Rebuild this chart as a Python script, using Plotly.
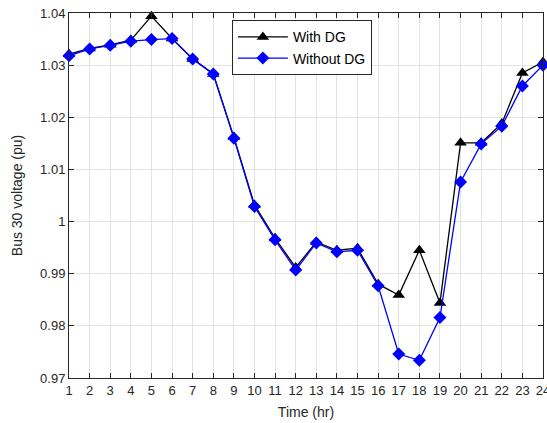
import plotly.graph_objects as go

hours = list(range(1, 25))
with_dg = [1.0321, 1.0332, 1.0339, 1.0348, 1.0394, 1.0351, 1.0312, 1.0283, 1.0162, 1.0032,
           0.9968, 0.9912, 0.9961, 0.9945, 0.9949, 0.9880, 0.9859, 0.9945, 0.9844, 1.0151,
           1.0151, 1.0188, 1.0285, 1.0306]
without_dg = [1.0318, 1.0331, 1.0338, 1.0346, 1.0349, 1.0351, 1.0312, 1.0283, 1.0160, 1.0029,
              0.9965, 0.9907, 0.9959, 0.9942, 0.9945, 0.9877, 0.9746, 0.9734, 0.9816, 1.0076,
              1.0149, 1.0183, 1.0260, 1.0300]
y_ticks = [0.97, 0.98, 0.99, 1.00, 1.01, 1.02, 1.03, 1.04]
y_tick_labels = ["0.97", "0.98", "0.99", "1", "1.01", "1.02", "1.03", "1.04"]

fig = go.Figure()
fig.add_trace(go.Scatter(
    x=hours, y=with_dg, name="With DG", mode="lines+markers",
    line=dict(color="black", width=1.3),
    marker=dict(symbol="triangle-up", size=11, color="black"),
    cliponaxis=False,
))
fig.add_trace(go.Scatter(
    x=hours, y=without_dg, name="Without DG", mode="lines+markers",
    line=dict(color="#0000ff", width=1.3),
    marker=dict(symbol="diamond", size=10, color="#0000ff"),
    cliponaxis=False,
))

axis_common = dict(
    showline=True, linecolor="#262626", linewidth=1, mirror="ticks",
    ticks="inside", ticklen=5, tickcolor="#262626",
    showgrid=True, gridcolor="#e3e3e3", gridwidth=1, zeroline=False,
    tickfont=dict(family="Liberation Sans, Arial", size=13, color="#262626"),
    ticklabeloverflow="allow", automargin=False,
)

fig.update_xaxes(
    range=[1, 24], tickvals=hours, ticktext=[str(h) for h in hours],
    title=dict(text="Time (hr)", font=dict(family="Liberation Sans, Arial", size=14, color="#262626"),
               standoff=10),
    **axis_common,
)
fig.update_yaxes(
    range=[0.97, 1.04], tickvals=y_ticks, ticktext=y_tick_labels,
    title=dict(text="Bus 30 voltage (pu)", font=dict(family="Liberation Sans, Arial", size=14, color="#262626"),
               standoff=14),
    **axis_common,
)

fig.update_layout(
    width=547, height=423,
    margin=dict(l=69, r=4, t=13, b=45),
    paper_bgcolor="white", plot_bgcolor="white",
    legend=dict(
        x=0.639, y=0.98, xanchor="right", yanchor="top",
        bordercolor="#262626", borderwidth=1, bgcolor="white",
        font=dict(family="Liberation Sans, Arial", size=14, color="black"),
        tracegroupgap=0, itemwidth=50,
    ),
)

fig.write_html("out.html")
